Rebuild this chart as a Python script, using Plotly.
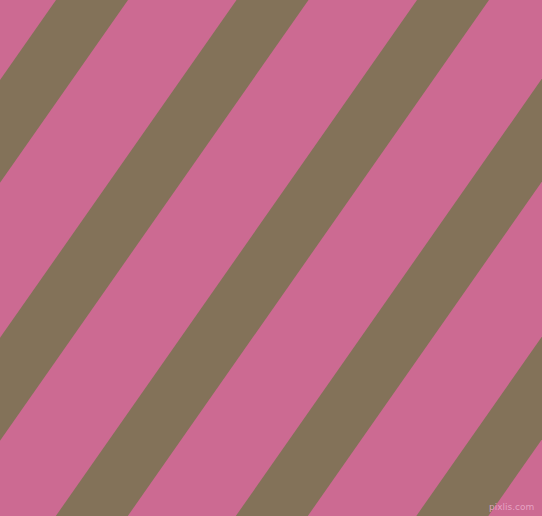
import plotly.graph_objects as go

# stripe data, measured along the top edge of the picture
stripe_starts = [56, 236.5, 417, 597, 777.5]   # x where each brown stripe starts at y=0
stripe_width = 72                               # horizontal width of a stripe
stripe_shift = 0.7                              # how far x moves left per unit of y
img_w = 542
img_h = 516

pink = "#cc6a92"
brown = "#837259"

fig = go.Figure()

# one filled polygon per brown stripe
for x0 in stripe_starts:
    x1 = x0 + stripe_width
    xs = [x0, x1, x1 - stripe_shift * img_h, x0 - stripe_shift * img_h, x0]
    ys = [0, 0, img_h, img_h, 0]
    fig.add_trace(go.Scatter(x=xs, y=ys, mode="lines", fill="toself",
                             fillcolor=brown, line=dict(width=0, color=brown),
                             hoverinfo="skip", showlegend=False))

# little watermark bottom right
fig.add_annotation(x=511, y=507, text="pixlis.com", showarrow=False,
                   font=dict(family="DejaVu Sans", size=9, color="rgba(235,175,205,0.85)"))

fig.update_xaxes(range=[0, img_w], visible=False, fixedrange=True)
fig.update_yaxes(range=[img_h, 0], visible=False, fixedrange=True)
fig.update_layout(width=img_w, height=img_h, margin=dict(l=0, r=0, t=0, b=0),
                  plot_bgcolor=pink, paper_bgcolor=pink)

# no page margin so the chart fills the window
fig.write_html("out.html", config={"displayModeBar": False},
               post_script="document.body.style.margin='0';document.body.style.overflow='hidden';")
